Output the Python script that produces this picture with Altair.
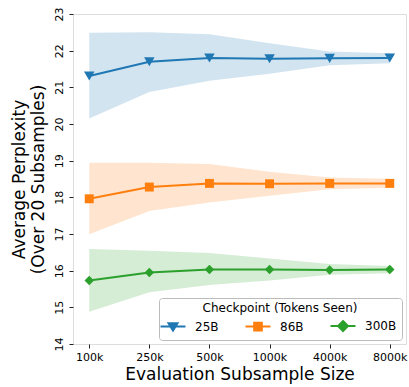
import altair as alt
import pandas as pd

categories = ["100k", "250k", "500k", "1000k", "4000k", "8000k"]
series_names = ["25B", "86B", "300B"]
colors = ["#1f77b4", "#ff7f0e", "#2ca02c"]

mean_25 = [21.31, 21.70, 21.80, 21.78, 21.79, 21.80]
low_25 = [20.15, 20.87, 21.18, 21.37, 21.60, 21.66]
high_25 = [22.49, 22.50, 22.45, 22.20, 21.98, 21.93]

mean_86 = [17.96, 18.28, 18.38, 18.37, 18.38, 18.38]
low_86 = [16.99, 17.63, 17.86, 18.04, 18.22, 18.26]
high_86 = [18.94, 18.94, 18.91, 18.70, 18.54, 18.51]

mean_300 = [15.73, 15.95, 16.03, 16.03, 16.02, 16.03]
low_300 = [14.88, 15.41, 15.61, 15.73, 15.89, 15.93]
high_300 = [16.59, 16.54, 16.48, 16.33, 16.18, 16.13]

marker_shapes = ["triangle-down", "square", "diamond"]
legend_paths = [
    "M-1.56,0H1.56M-0.56,-0.4H0.56L0,0.5Z",
    "M-1.56,0H1.56M-0.48,-0.48H0.48V0.48H-0.48Z",
    "M-1.56,0H1.56M0,-0.62L0.62,0L0,0.62L-0.62,0Z",
]

rows = []
for name, m, lo, hi in [
    ("25B", mean_25, low_25, high_25),
    ("86B", mean_86, low_86, high_86),
    ("300B", mean_300, low_300, high_300),
]:
    for c, a, b, h in zip(categories, m, lo, hi):
        rows.append({"size": c, "series": name, "mean": a, "low": b, "high": h})
df = pd.DataFrame(rows)

font = "DejaVu Sans"

x_enc = alt.X(
    "size:N",
    sort=categories,
    scale=alt.Scale(type="point", padding=0.27),
    axis=alt.Axis(
        title="Evaluation Subsample Size",
        labelAngle=0,
        labelFontSize=11,
        titleFontSize=17,
        titleFontWeight="normal",
        tickSize=4,
        labelPadding=3,
        titlePadding=4,
        domain=False,
    ),
)
y_scale = alt.Scale(domain=[14, 23], nice=False, zero=False)
y_axis = alt.Axis(
    title=["Average Perplexity", "(Over 20 Subsamples)"],
    values=list(range(14, 24)),
    labelAngle=-90,
    labelAlign="center",
    labelBaseline="bottom",
    labelOverlap=False,
    labelFontSize=11,
    titleFontSize=17,
    titleLineHeight=19,
    titleFontWeight="normal",
    tickSize=4,
    labelPadding=5,
    titlePadding=6,
    grid=False,
    domain=False,
)
color_scale = alt.Scale(domain=series_names, range=colors)

leg = alt.Legend(
    title="Checkpoint (Tokens Seen)",
    orient="bottom-right",
    offset=4,
    direction="horizontal",
    columns=3,
    symbolSize=256,
    symbolStrokeWidth=2,
    symbolOpacity=1,
    labelOffset=13,
    columnPadding=22,
    labelFontSize=12,
    titleFontSize=12,
    titleFontWeight="normal",
    titleAnchor="middle",
    titlePadding=2,
    padding=5,
    fillColor="white",
    strokeColor="#bbbbbb",
    cornerRadius=3,
)


def y_of(field):
    return alt.Y(field, scale=y_scale, axis=y_axis)


def color_enc():
    return alt.Color("series:N", scale=color_scale, legend=leg)


legend_layer = (
    alt.Chart(df)
    .transform_filter("false")
    .mark_point(filled=True, size=256, opacity=1, strokeWidth=2)
    .encode(
        x=x_enc,
        y=y_of("mean:Q"),
        fill=alt.Fill("series:N", scale=alt.Scale(domain=series_names, range=colors), legend=leg),
        stroke=alt.Stroke("series:N", scale=alt.Scale(domain=series_names, range=colors), legend=leg),
        shape=alt.Shape("series:N", scale=alt.Scale(domain=series_names, range=legend_paths), legend=leg),
    )
)

band = alt.Chart(df).mark_area(fillOpacity=0.2).encode(
    x=x_enc,
    y=y_of("low:Q"),
    y2="high:Q",
    color=color_enc(),
    detail="series:N",
)

line = alt.Chart(df).mark_line(strokeWidth=2).encode(
    x=x_enc,
    y=y_of("mean:Q"),
    color=color_enc(),
)

point_layers = []
for name, shp in zip(series_names, marker_shapes):
    sz = 110 if shp == "triangle-down" else (80 if shp == "square" else 90)
    p = (
        alt.Chart(df)
        .transform_filter(alt.datum.series == name)
        .mark_point(filled=True, shape=shp, size=sz, opacity=1)
        .encode(
            x=x_enc,
            y=y_of("mean:Q"),
            color=color_enc(),
        )
    )
    point_layers.append(p)

chart = (
    alt.layer(legend_layer, band, line, *point_layers)
    .properties(
        width=333,
        height=330,
        autosize=alt.AutoSizeParams(type="none"),
        padding={"left": 73, "top": 14, "right": 3, "bottom": 43},
    )
    .configure_view(stroke="#222222", strokeWidth=1)
    .configure(font=font, background="white")
    .configure_axis(
        labelFont=font,
        titleFont=font,
        labelColor="black",
        titleColor="black",
        tickColor="#222222",
        tickWidth=1,
    )
    .configure_legend(labelFont=font, titleFont=font, labelColor="black", titleColor="black")
)

chart.save("out.html", embed_options={"renderer": "svg", "actions": False})
